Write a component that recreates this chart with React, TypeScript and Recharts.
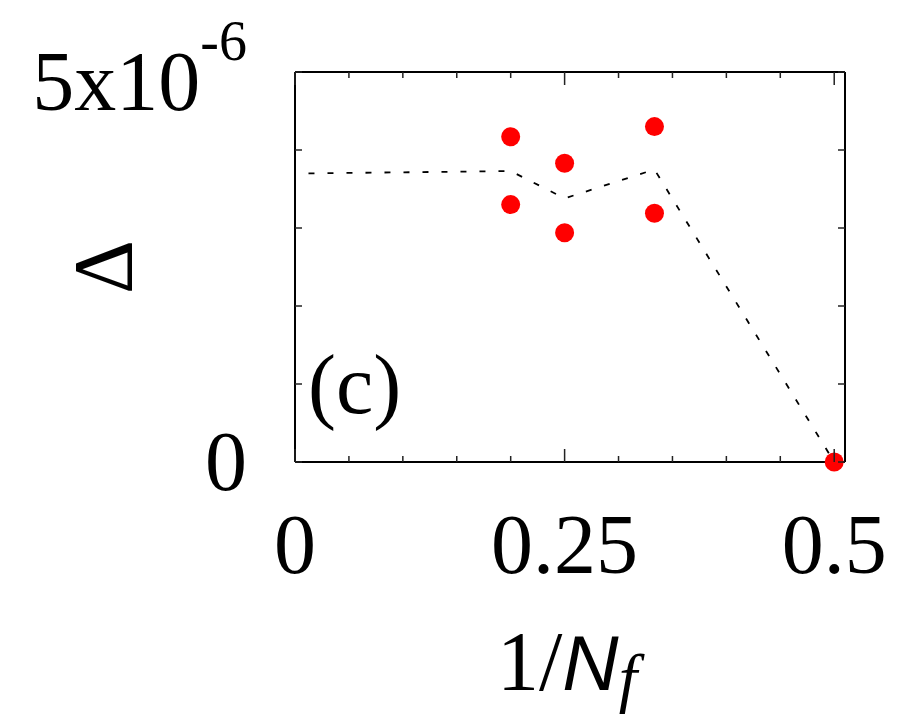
import React from 'react';
import { ComposedChart, Line, Scatter, XAxis, YAxis } from 'recharts';

// measured points: 1/Nf and Delta
const pointX = [0.2, 0.2, 0.25, 0.25, 1 / 3, 1 / 3, 0.5];
const pointY = [4.17e-6, 3.3e-6, 3.83e-6, 2.94e-6, 4.3e-6, 3.19e-6, 0];

// dashed guide line
const guideX = [0.0125, 0.2, 0.25, 1 / 3, 0.5];
const guideY = [3.7e-6, 3.73e-6, 3.38e-6, 3.75e-6, 0];

const xTicks = [0, 0.05, 0.1, 0.15, 0.2, 0.25, 0.3, 0.35, 0.4, 0.45, 0.5];
const xMajor = [0, 0.25, 0.5];
const yTicks = [0, 1e-6, 2e-6, 3e-6, 4e-6, 5e-6];

const points = pointX.map((x, i) => ({ x, y: pointY[i] }));
const guide = guideX.map((x, i) => ({ x, y: guideY[i] }));

const SERIF = "'Liberation Serif', 'Times New Roman', 'DejaVu Serif', serif";
const SANS = "'Liberation Sans', Arial, sans-serif";
const FS = 84;
const TICK_COLOR = '#222';

const isMajorX = (v: number) => xMajor.some((m) => Math.abs(m - v) < 1e-9);

const BottomTick = ({ x, y, payload }: any) => {
  const major = isMajorX(payload.value);
  return (
    <g>
      <line x1={x} y1={y} x2={x} y2={y - (major ? 13 : 6)} stroke={TICK_COLOR} strokeWidth={1.5} />
      {major && (
        <text x={x} y={y + 111} textAnchor="middle" style={{ fontFamily: SERIF, fontSize: FS }} fill="#000">
          {payload.value}
        </text>
      )}
    </g>
  );
};

const TopTick = ({ x, y, payload }: any) => {
  const major = isMajorX(payload.value);
  return <line x1={x} y1={y} x2={x} y2={y + (major ? 13 : 6)} stroke={TICK_COLOR} strokeWidth={1.5} />;
};

const LeftTick = ({ x, y, payload }: any) => {
  const v = payload.value;
  return (
    <g>
      <line x1={x} y1={y} x2={x + 7} y2={y} stroke={TICK_COLOR} strokeWidth={1.5} />
      {v === 0 && (
        <text x={x - 48} y={y + 28} textAnchor="end" style={{ fontFamily: SERIF, fontSize: FS }} fill="#000">
          0
        </text>
      )}
      {v === 5e-6 && (
        <text x={x - 48} y={y + 38} textAnchor="end" style={{ fontFamily: SERIF, fontSize: FS }} fill="#000">
          <tspan>5x10</tspan>
          <tspan dy={-50} style={{ fontSize: 56 }}>-6</tspan>
        </text>
      )}
    </g>
  );
};

const RightTick = ({ x, y }: any) => (
  <line x1={x} y1={y} x2={x - 7} y2={y} stroke={TICK_COLOR} strokeWidth={1.5} />
);

const XTitle = (props: any) => {
  const vb = props.viewBox;
  return (
    <text x={vb.x + 202} y={vb.y + 228} style={{ fontFamily: SERIF, fontSize: FS }} fill="#000">
      <tspan>1/</tspan>
      <tspan style={{ fontFamily: SANS, fontStyle: 'italic', fontSize: 78 }}>N</tspan>
      <tspan style={{ fontFamily: SERIF, fontStyle: 'italic', fontSize: 66 }} dy={10}>f</tspan>
    </text>
  );
};

const YTitle = (props: any) => {
  const vb = props.viewBox;
  const cx = vb.x - 190;
  const cy = vb.y + 195;
  return (
    <g>
      <text
        x={cx}
        y={cy + 28}
        textAnchor="middle"
        transform={`rotate(-90, ${cx}, ${cy})`}
        style={{ fontFamily: SERIF, fontSize: FS }}
        fill="#000"
      >
        Δ
      </text>
      <text x={vb.x + 14} y={vb.y + 341} style={{ fontFamily: SERIF, fontSize: FS }} fill="#000">
        (c)
      </text>
    </g>
  );
};

const Dot = (props: any) => <circle cx={props.cx} cy={props.cy} r={9.5} fill="#ff0000" />;

const axisLine = { stroke: '#000', strokeWidth: 2 };

export default function App() {
  return (
    <div style={{ position: 'absolute', left: 0, top: 0, width: 900, height: 725, background: '#fff' }}>
      <ComposedChart width={900} height={725} margin={{ top: 71, right: 54, bottom: 262, left: 294 }}>
        <XAxis
          xAxisId="bottom"
          type="number"
          dataKey="x"
          domain={[0, 0.51]}
          ticks={xTicks}
          interval={0}
          height={1}
          tickSize={0}
          tickMargin={0}
          tickLine={false}
          axisLine={axisLine}
          tick={<BottomTick />}
          label={XTitle}
        />
        <XAxis
          xAxisId="top"
          orientation="top"
          type="number"
          dataKey="x"
          domain={[0, 0.51]}
          ticks={xTicks}
          interval={0}
          height={1}
          tickSize={0}
          tickMargin={0}
          tickLine={false}
          axisLine={axisLine}
          tick={<TopTick />}
        />
        <YAxis
          yAxisId="left"
          type="number"
          domain={[0, 5e-6]}
          ticks={yTicks}
          interval={0}
          width={1}
          tickSize={0}
          tickMargin={0}
          tickLine={false}
          axisLine={axisLine}
          tick={<LeftTick />}
          label={YTitle}
        />
        <YAxis
          yAxisId="right"
          orientation="right"
          type="number"
          domain={[0, 5e-6]}
          ticks={yTicks}
          interval={0}
          width={1}
          tickSize={0}
          tickMargin={0}
          tickLine={false}
          axisLine={axisLine}
          tick={<RightTick />}
        />
        <Line
          data={guide}
          dataKey="y"
          xAxisId="bottom"
          yAxisId="left"
          type="linear"
          stroke="#000"
          strokeWidth={1.8}
          strokeDasharray="6 13"
          dot={false}
          activeDot={false}
          isAnimationActive={false}
        />
        <Line
          data={guide}
          dataKey="y"
          xAxisId="top"
          yAxisId="right"
          stroke="none"
          dot={false}
          activeDot={false}
          isAnimationActive={false}
        />
        <Scatter
          data={points}
          dataKey="y"
          xAxisId="bottom"
          yAxisId="left"
          shape={<Dot />}
          isAnimationActive={false}
        />
      </ComposedChart>
    </div>
  );
}
